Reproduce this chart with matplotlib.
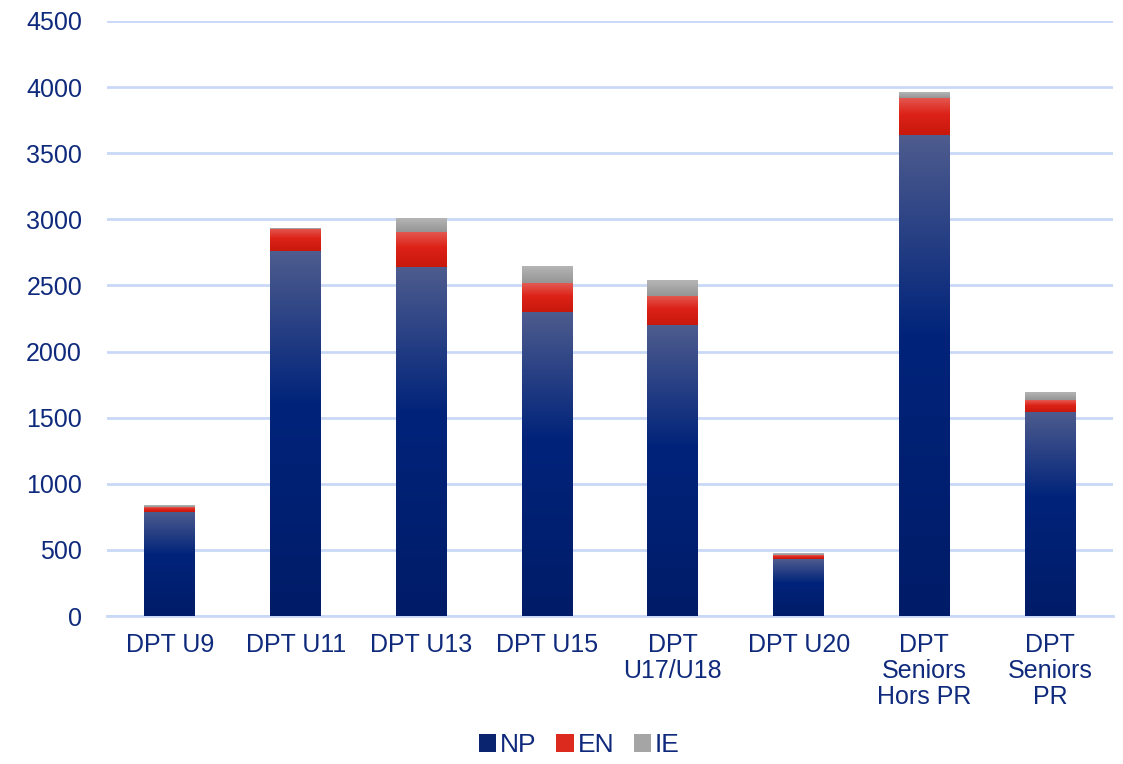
import numpy as np
import matplotlib
matplotlib.use("Agg")
import matplotlib.pyplot as plt
from matplotlib.colors import LinearSegmentedColormap
from matplotlib.patches import Patch

categories = ["DPT U9", "DPT U11", "DPT U13", "DPT U15", "DPT\nU17/U18",
              "DPT U20", "DPT\nSeniors\nHors PR", "DPT\nSeniors\nPR"]
np_vals = [790, 2760, 2640, 2300, 2200, 430, 3635, 1545]
en_vals = [35, 170, 265, 217, 220, 30, 285, 90]
ie_vals = [15, 5, 105, 123, 115, 8, 38, 53]

series = [
    ("NP", np_vals, "#0a2470", [(0.0, "#4e5c8e"), (0.42, "#00237a"), (1.0, "#001c68")]),
    ("EN", en_vals, "#dc2a1e", [(0.0, "#e35b53"), (0.45, "#dd2218"), (1.0, "#c8180c")]),
    ("IE", ie_vals, "#a5a5a5", [(0.0, "#b5b5b5"), (1.0, "#959595")]),
]

txt = "#0f2a7c"
grid_c = "#c9d8f7"
plt.rcParams["font.family"] = ["Liberation Sans", "DejaVu Sans"]
fs = 18

fig = plt.figure(figsize=(11.23, 7.64), dpi=100)
ax = fig.add_axes([107 / 1123, 1 - 616 / 764, (1113 - 107) / 1123, (616 - 21) / 764])

x = np.arange(len(categories))
w = 0.405
bottom = np.zeros(len(categories))
handles = []
for name, vals, solid, stops in series:
    cmap = LinearSegmentedColormap.from_list(name, stops)
    grad = np.linspace(0, 1, 256).reshape(-1, 1)
    bars = ax.bar(x, vals, w, bottom=bottom, color=solid, zorder=2, linewidth=0)
    for b in bars:
        x0, y0 = b.get_x(), b.get_y()
        ax.imshow(grad, cmap=cmap, aspect="auto", zorder=3,
                  extent=(x0, x0 + b.get_width(), y0, y0 + b.get_height()),
                  origin="upper", interpolation="bilinear")
    bottom += np.array(vals)
    handles.append(Patch(facecolor=solid, label=name))

ax.set_xlim(-0.5, len(categories) - 0.5)
ax.set_ylim(0, 4500)
ax.set_yticks(range(0, 4501, 500))
ax.set_xticks(x)
ax.set_xticklabels(categories, linespacing=1.12)
ax.tick_params(axis="both", length=0, labelsize=fs, labelcolor=txt)
ax.tick_params(axis="y", pad=18)
ax.tick_params(axis="x", pad=12)
ax.yaxis.grid(True, color=grid_c, lw=2, zorder=1)
ax.set_axisbelow(True)
for s in ["top", "right", "left"]:
    ax.spines[s].set_visible(False)
ax.spines["bottom"].set_color(grid_c)
ax.spines["bottom"].set_linewidth(2)

leg = fig.legend(handles=handles, loc="lower center", bbox_to_anchor=(0.516, -0.022),
                 ncol=3, frameon=False, fontsize=fs + 1, handlelength=0.65, handleheight=0.65,
                 handletextpad=0.15, columnspacing=0.75)
for t in leg.get_texts():
    t.set_color(txt)

fig.savefig("out.png", dpi=100)
